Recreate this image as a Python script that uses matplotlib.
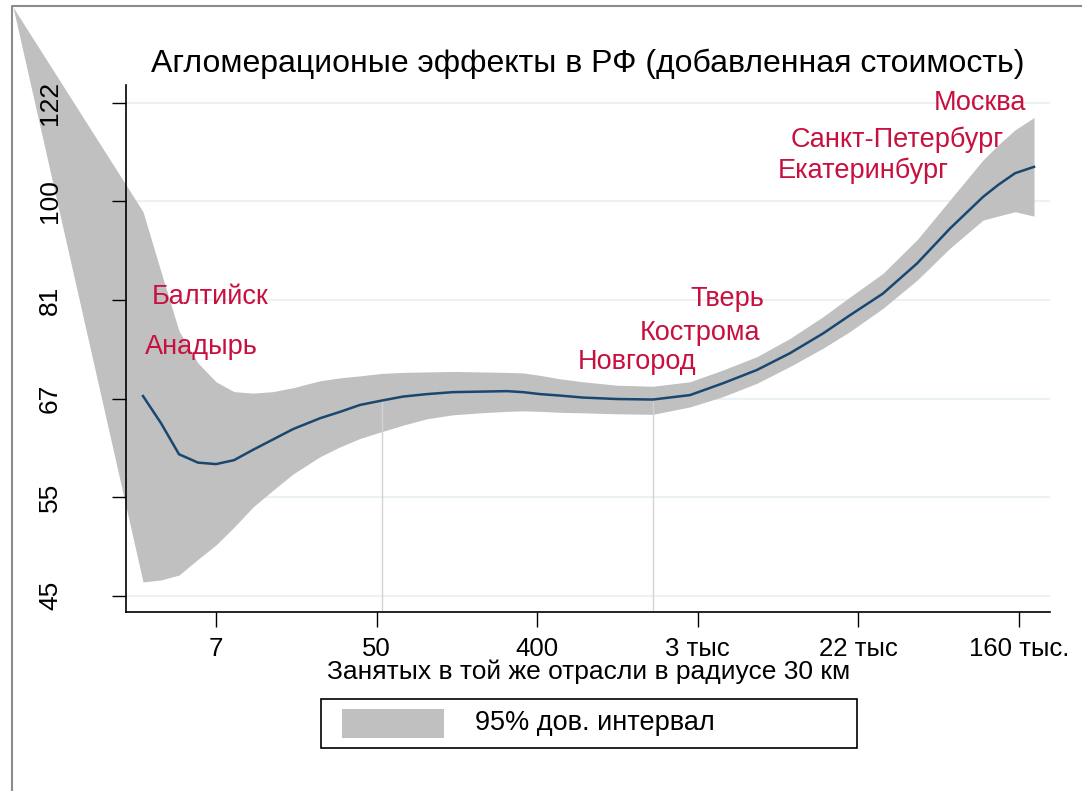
import numpy as np
import matplotlib
matplotlib.use("Agg")
import matplotlib.pyplot as plt
from matplotlib import font_manager
from matplotlib.patches import Rectangle
from matplotlib.lines import Line2D

# ---- data (log scale: ln of employment, ln of value added) ----
ln_emp = [1.091, 1.315, 1.539, 1.776, 2.000, 2.224, 2.461, 2.710, 2.959, 3.295,
          3.544, 3.793, 4.067, 4.329, 4.628, 4.951, 5.288, 5.624, 5.823, 6.035,
          6.284, 6.570, 6.994, 7.442, 7.903, 8.314, 8.737, 9.148, 9.559, 9.895,
          10.306, 10.730, 11.141, 11.552, 11.738, 11.950, 12.187]
fit = [4.205, 4.150, 4.087, 4.070, 4.067, 4.075, 4.096, 4.117, 4.138, 4.160,
       4.173, 4.187, 4.196, 4.204, 4.209, 4.213, 4.214, 4.215, 4.213, 4.209,
       4.206, 4.202, 4.199, 4.198, 4.207, 4.231, 4.258, 4.292, 4.332, 4.369,
       4.413, 4.474, 4.545, 4.609, 4.633, 4.657, 4.670]
upper = [4.579, 4.457, 4.337, 4.272, 4.234, 4.214, 4.211, 4.214, 4.222, 4.236,
         4.242, 4.246, 4.251, 4.253, 4.254, 4.255, 4.254, 4.253, 4.252, 4.247,
         4.240, 4.234, 4.227, 4.225, 4.234, 4.258, 4.285, 4.322, 4.366, 4.406,
         4.454, 4.522, 4.603, 4.684, 4.714, 4.745, 4.770]
lower = [3.828, 3.832, 3.842, 3.874, 3.903, 3.939, 3.980, 4.014, 4.047, 4.082,
         4.102, 4.119, 4.133, 4.146, 4.159, 4.167, 4.171, 4.174, 4.175, 4.174,
         4.172, 4.171, 4.169, 4.168, 4.183, 4.204, 4.231, 4.265, 4.302, 4.336,
         4.383, 4.440, 4.505, 4.562, 4.570, 4.579, 4.570]
# band runs off to the upper-left corner of the graph
band_start_x = -0.528
band_start_y = 4.994

ref_lines = [4.071, 7.446]

cities = ["Москва", "Санкт-Петербург", "Екатеринбург", "Балтийск", "Анадырь",
          "Тверь", "Кострома", "Новгород"]
city_x = [10.941, 9.161, 8.999, 1.203, 1.116, 7.903, 7.280, 6.508]
city_y = [4.799, 4.724, 4.663, 4.406, 4.304, 4.402, 4.333, 4.274]

yticks = [3.8, 4.0, 4.2, 4.4, 4.6, 4.8]
ylabels = ["45", "55", "67", "81", "100", "122"]
xticks = [2, 4, 6, 8, 10, 12]
xlabels = ["7", "50", "400", "3 тыс", "22 тыс", "160 тыс."]

# ---- fonts ----
names = {f.name for f in font_manager.fontManager.ttflist}
main_font = "Liberation Sans" if "Liberation Sans" in names else "DejaVu Sans"
narrow_font = "Liberation Sans Narrow" if "Liberation Sans Narrow" in names else main_font
plt.rcParams["font.family"] = [main_font, "DejaVu Sans"]

W, H = 1082, 791
fig = plt.figure(figsize=(W / 100, H / 100), dpi=100)

def fx(px):
    return px / W

def fy(py):
    return 1 - py / H

ax = fig.add_axes([fx(126), fy(612), fx(1050) - fx(126), fy(85) - fy(612)])
ax.set_xlim(0.879, 12.386)
ax.set_ylim(3.767, 4.836)

# grid under everything
for yt in yticks:
    ax.axhline(yt, color="#eaf2f3", lw=1.5, zorder=1)

band_x = [band_start_x] + ln_emp
band_lo = [band_start_y] + lower
band_hi = [band_start_y] + upper
ax.fill_between(band_x, band_lo, band_hi, color="#c0c0c0", lw=0, clip_on=False, zorder=2)

tops = np.interp(ref_lines, ln_emp, fit)
ax.vlines(ref_lines, 3.767, tops, color="#d2d2d2", lw=1, zorder=3)

ax.plot(ln_emp, fit, color="#1a476f", lw=1.8, zorder=4)

for name, x, y in zip(cities, city_x, city_y):
    ax.text(x, y, name, color="#c8103e", fontsize=19.5, ha="left", va="center", zorder=5)

ax.set_yticks(yticks)
ax.set_yticklabels(ylabels, rotation=90, va="center", family=narrow_font, fontsize=19)
ax.set_xticks(xticks)
ax.set_xticklabels(xlabels, family=narrow_font, fontsize=18.5)
ax.tick_params(axis="y", length=10, width=1, pad=36)
ax.tick_params(axis="x", length=11, width=1, pad=7)
# tick labels above the band (band spills outside the axes)
ax.xaxis.set_zorder(6)
ax.yaxis.set_zorder(6)
for s in ["top", "right"]:
    ax.spines[s].set_visible(False)
for s in ["left", "bottom"]:
    ax.spines[s].set_linewidth(1.2)
    ax.spines[s].set_zorder(6)

fig.text(fx(588), fy(64), "Агломерационые эффекты в РФ (добавленная стоимость)",
         fontsize=23, ha="center", va="center")
fig.text(fx(589), fy(672), "Занятых в той же отрасли в радиусе 30 км",
         family=narrow_font, fontsize=19, ha="center", va="center")

# legend box
fig.add_artist(Rectangle((fx(321), fy(748)), fx(857) - fx(321), fy(699) - fy(748),
                         transform=fig.transFigure, fill=False, ec="black", lw=1.2))
fig.add_artist(Rectangle((fx(342), fy(738)), fx(444) - fx(342), fy(709) - fy(738),
                         transform=fig.transFigure, fc="#c0c0c0", ec="none"))
fig.text(fx(475), fy(723), "95% дов. интервал", fontsize=19.5, ha="left", va="center")

# outer graph border
fig.add_artist(Line2D([fx(12), fx(12), 1.0], [0.0, fy(6), fy(6)],
                      transform=fig.transFigure, color="#8c8c8c", lw=1.5))

fig.savefig("out.png", dpi=100)
